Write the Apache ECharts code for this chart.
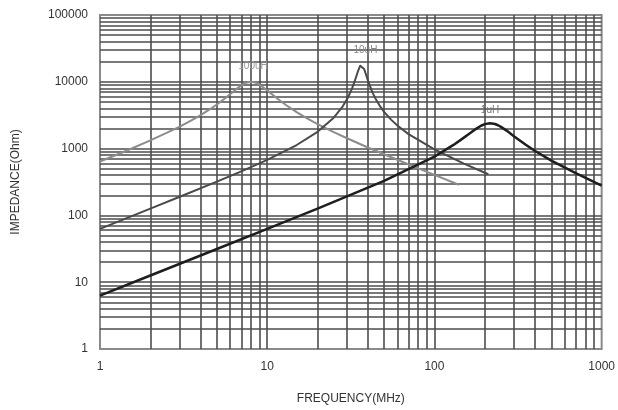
<!DOCTYPE html>
<html>
<head>
<meta charset="utf-8">
<script src="https://cdn.jsdelivr.net/npm/echarts@6/dist/echarts.min.js"></script>
<style>
html,body{margin:0;padding:0;background:#fff;}
#chart{width:618px;height:410px;}
</style>
</head>
<body>
<div id="chart"></div>
<script>
// ---- data ----
const seriesNames = ['100uH', '10uH', '1uH'];

const freq100uH = [1, 1.5, 2, 2.5, 3, 3.5, 4, 4.5, 5, 5.5, 6, 6.5, 7, 7.5, 8, 8.5, 9, 10, 11, 12, 13, 15, 17, 20, 25, 30, 40, 50, 60, 70, 80, 100, 140];
const imp100uH  = [640, 970, 1330, 1715, 2140, 2625, 3180, 3820, 4580, 5480, 6530, 7690, 8830, 9690, 10000, 9720, 9050, 7440, 6130, 5160, 4450, 3510, 2900, 2330, 1760, 1430, 1040, 822, 680, 582, 507, 404, 288];

const freq10uH = [1, 2, 3, 5, 7, 10, 15, 20, 25, 28, 30, 32, 33, 34, 35, 36, 36.6, 37, 38, 39, 40, 42, 43, 45, 47, 50, 55, 60, 70, 100, 150, 210];
const imp10uH  = [63, 126, 190, 320, 457, 679, 1131, 1783, 2906, 4130, 5474, 7710, 9438, 11790, 14750, 17420, 18000, 17740, 15500, 12760, 10490, 7560, 6606, 5280, 4411, 3555, 2715, 2217, 1648, 971, 596, 413];

const freq1uH = [1, 2, 5, 10, 20, 50, 100, 130, 150, 160, 170, 180, 190, 200, 215, 230, 240, 250, 270, 300, 350, 400, 500, 700, 1000];
const imp1uH  = [6.3, 12.6, 31.4, 62.8, 126, 329, 760, 1135, 1460, 1643, 1836, 2026, 2197, 2324, 2400, 2334, 2235, 2113, 1860, 1520, 1150, 920, 660, 430, 280];

const peakLabels = [
  {name: '100uH', coord: [8, 10000]},
  {name: '10uH', coord: [36.6, 18000]},
  {name: '1uH', coord: [215, 2400]}
];

const xDecades = [1, 10, 100];
const yDecades = [1, 10, 100, 1000, 10000];
const multipliers = [2, 3, 4, 5, 6, 7, 8, 9];

// ---- build grid lines (log minor grid) ----
const xGrid = [];
xDecades.forEach(d => multipliers.forEach(m => xGrid.push(d * m)));
xGrid.push(10, 100);
const yGrid = [];
yDecades.forEach(d => multipliers.forEach(m => yGrid.push(d * m)));
yGrid.push(10, 100, 1000, 10000);

const gridLineData = xGrid.map(v => ({xAxis: v})).concat(yGrid.map(v => ({yAxis: v})));

function zip(xs, ys) { return xs.map((x, i) => [x, ys[i]]); }

const colors = ['#8c8c8c', '#4a4a4a', '#1e1e1e'];
const labelColors = ['#999', '#888', '#777'];
const widths = [2, 2, 2.5];
const dataSets = [zip(freq100uH, imp100uH), zip(freq10uH, imp10uH), zip(freq1uH, imp1uH)];
const labelOffsets = [[2, -16], [4, -14], [0, -13]];

const series = [{
  type: 'line',
  data: [],
  silent: true,
  markLine: {
    silent: true,
    symbol: 'none',
    animation: false,
    label: {show: false},
    lineStyle: {color: '#4d4d4d', width: 1.6, type: 'solid'},
    data: gridLineData
  }
}];

seriesNames.forEach((nm, i) => {
  series.push({
    name: nm,
    type: 'line',
    data: dataSets[i],
    showSymbol: false,
    smooth: false,
    lineStyle: {color: colors[i], width: widths[i], join: 'round'},
    itemStyle: {color: colors[i]},
    z: 5,
    markPoint: {
      symbol: 'circle',
      symbolSize: 0,
      silent: true,
      animation: false,
      label: {
        show: true,
        formatter: peakLabels[i].name,
        color: labelColors[i],
        fontSize: 10,
        fontFamily: 'Liberation Sans, Arial, sans-serif',
        offset: labelOffsets[i]
      },
      data: [{coord: peakLabels[i].coord}]
    }
  });
});

const chart = echarts.init(document.getElementById('chart'), null, {renderer: 'canvas'});
chart.setOption({
  animation: false,
  backgroundColor: '#fff',
  grid: {
    left: 100, right: 13, top: 15, bottom: 60,
    show: true, borderColor: '#8a8a8a', borderWidth: 2, backgroundColor: 'transparent'
  },
  xAxis: {
    type: 'log', logBase: 10, min: 1, max: 1000,
    name: 'FREQUENCY(MHz)', nameLocation: 'middle', nameGap: 44,
    nameTextStyle: {color: '#333', fontSize: 12, fontFamily: 'Liberation Sans, Arial, sans-serif'},
    axisLine: {show: false},
    axisTick: {show: false},
    splitLine: {show: false},
    axisLabel: {
      color: '#333', fontSize: 12, margin: 12,
      fontFamily: 'Liberation Sans, Arial, sans-serif',
      formatter: v => String(Math.round(v))
    }
  },
  yAxis: {
    type: 'log', logBase: 10, min: 1, max: 100000,
    name: 'IMPEDANCE(Ohm)', nameLocation: 'middle', nameGap: 78,
    nameTextStyle: {color: '#333', fontSize: 12, fontFamily: 'Liberation Sans, Arial, sans-serif'},
    axisLine: {show: false},
    axisTick: {show: false},
    splitLine: {show: false},
    axisLabel: {
      color: '#333', fontSize: 12, margin: 12,
      fontFamily: 'Liberation Sans, Arial, sans-serif',
      formatter: v => String(Math.round(v))
    }
  },
  series: series
});
</script>
</body>
</html>
